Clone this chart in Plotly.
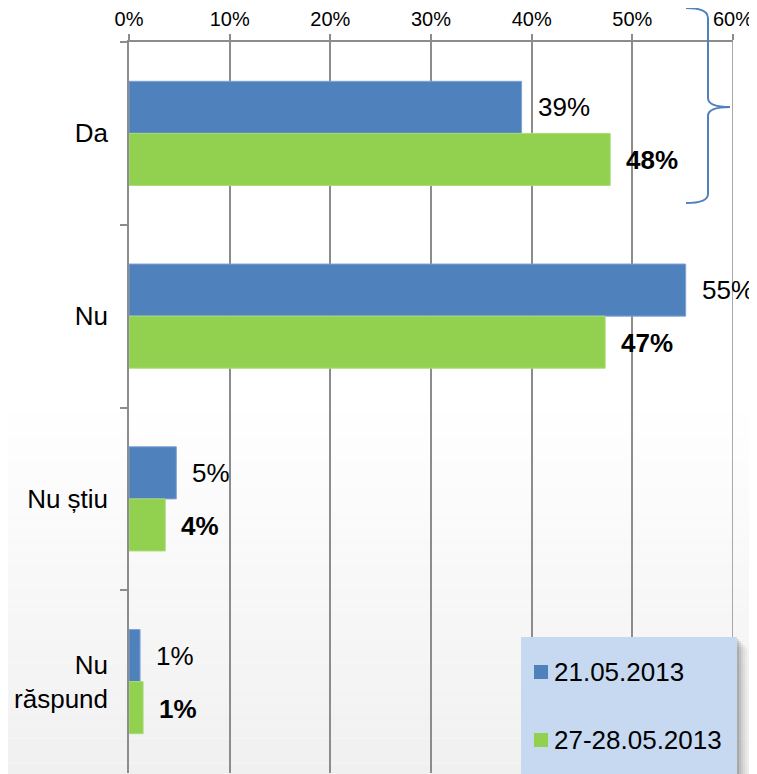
import plotly.graph_objects as go

categories = ["Da", "Nu", "Nu știu", "Nu<br>răspund"]
series_names = ["21.05.2013", "27-28.05.2013"]
values_0521 = [39.0, 55.3, 4.7, 1.1]
values_2728 = [47.8, 47.3, 3.6, 1.4]
labels_0521 = ["39%", "55%", "5%", "1%"]
labels_2728 = ["48%", "47%", "4%", "1%"]
x_ticks = [0, 10, 20, 30, 40, 50, 60]
x_tick_labels = ["0%", "10%", "20%", "30%", "40%", "50%", "60%"]

BLUE = "#4f81bd"
GREEN = "#92d050"
GRID = "#8c8c8c"
FONT = "Liberation Sans, Arial, sans-serif"

# page body margin offset
OFF = 8
PAGE_W, PAGE_H = 757, 774
W, H = PAGE_W - OFF, PAGE_H - OFF
# plot area in page pixels
PX0, PX1, PY0, PY1 = 129, 733, 42, 773
ML, MR, MT, MB = PX0 - OFF, PAGE_W - PX1, PY0 - OFF, PAGE_H - PY1
PW, PH = PX1 - PX0, PY1 - PY0


def xp(px):
    return (px - PX0) / PW


def yp(py):
    return (PY1 - py) / PH


fig = go.Figure()
fig.add_trace(go.Bar(
    y=categories, x=values_0521, orientation="h", name=series_names[0],
    marker=dict(color=BLUE, line=dict(color="#7ea3d2", width=1)),
    showlegend=False,
))
fig.add_trace(go.Bar(
    y=categories, x=values_2728, orientation="h", name=series_names[1],
    marker=dict(color=GREEN, line=dict(color="#a9dc7a", width=1)),
    showlegend=False,
))

annotations = []
for cat, v, t in zip(categories, values_0521, labels_0521):
    annotations.append(dict(x=v, y=cat, xref="x", yref="y", text=t, showarrow=False,
                            xanchor="left", yanchor="middle", xshift=14, yshift=26,
                            font=dict(family=FONT, size=26, color="black")))
for cat, v, t in zip(categories, values_2728, labels_2728):
    annotations.append(dict(x=v, y=cat, xref="x", yref="y", text="<b>" + t + "</b>",
                            showarrow=False, xanchor="left", yanchor="middle",
                            xshift=14, yshift=-27,
                            font=dict(family=FONT, size=26, color="black")))

shapes = []
# subtle background gradient near the bottom
n = 30
y_start, y_end = 400, PAGE_H + 2
for i in range(n):
    a = y_start + (y_end - y_start) * i / n
    b = y_start + (y_end - y_start) * (i + 1) / n
    g = int(round(255 - (255 - 240) * (i + 0.5) / n))
    shapes.append(dict(type="rect", xref="paper", yref="paper",
                       x0=xp(0), x1=xp(PAGE_W + 2), y0=yp(b), y1=yp(a),
                       fillcolor=f"rgb({g},{g},{g})", line=dict(width=0), layer="below"))

# gridline at the right end of the value axis (60%)
shapes.append(dict(type="line", xref="x", yref="paper", x0=x_ticks[-1], x1=x_ticks[-1],
                   y0=0, y1=1, line=dict(color=GRID, width=1.5), layer="below"))

# brace at top right
def pt(px, py):
    return f"{xp(px):.5f},{yp(py):.5f}"

path = (f"M {pt(686,8)} Q {pt(708,8)} {pt(708,18)} L {pt(708,98)} "
        f"Q {pt(708,107)} {pt(730,107)} Q {pt(708,107)} {pt(708,116)} "
        f"L {pt(708,194)} Q {pt(708,203)} {pt(686,203)}")
shapes.append(dict(type="path", xref="paper", yref="paper", path=path,
                   line=dict(color=BLUE, width=2), layer="above"))

# legend box with shadow
for k, alpha in enumerate([0.10, 0.08, 0.06, 0.04, 0.03, 0.02]):
    off = 2 + k * 2
    shapes.append(dict(type="rect", xref="paper", yref="paper",
                       x0=xp(521 + off), x1=xp(737 + off), y0=yp(PAGE_H + 10), y1=yp(637 + off),
                       fillcolor=f"rgba(0,0,0,{alpha})", line=dict(width=0), layer="above"))
shapes.append(dict(type="rect", xref="paper", yref="paper",
                   x0=xp(521), x1=xp(737), y0=yp(PAGE_H + 10), y1=yp(637),
                   fillcolor="#c6d9f1", line=dict(width=0), layer="above"))
legend_y = [672, 740]
for name, col, ly in zip(series_names, [BLUE, GREEN], legend_y):
    shapes.append(dict(type="rect", xref="paper", yref="paper",
                       x0=xp(534), x1=xp(548), y0=yp(ly + 7), y1=yp(ly - 7),
                       fillcolor=col, line=dict(width=0), layer="above"))
    annotations.append(dict(x=xp(552), y=yp(ly), xref="paper", yref="paper", text=name,
                            showarrow=False, xanchor="left", yanchor="middle",
                            font=dict(family=FONT, size=26, color="black")))

fig.update_layout(
    width=W, height=H,
    margin=dict(l=ML, r=MR, t=MT, b=MB, pad=0),
    paper_bgcolor="white", plot_bgcolor="rgba(0,0,0,0)",
    barmode="group", bargap=0.43, bargroupgap=0,
    font=dict(family=FONT, color="black"),
    showlegend=False,
    annotations=annotations,
    shapes=shapes,
    xaxis=dict(
        side="top", range=[0, 60], tickvals=x_ticks, ticktext=x_tick_labels,
        showgrid=True, gridcolor=GRID, gridwidth=1.5,
        ticks="outside", ticklen=6, tickcolor=GRID, tickwidth=1.5,
        showline=True, linecolor=GRID, linewidth=1.5,
        tickfont=dict(family=FONT, size=20, color="black"),
        zeroline=False, fixedrange=True,
    ),
    yaxis=dict(
        autorange="reversed", type="category",
        tickson="boundaries", ticks="outside", ticklen=7, tickcolor=GRID, tickwidth=1.5,
        showline=True, linecolor=GRID, linewidth=1.5, showgrid=False,
        tickfont=dict(family=FONT, size=26, color="black"),
        ticklabelstandoff=14,
    ),
)

fig.write_html("out.html")
